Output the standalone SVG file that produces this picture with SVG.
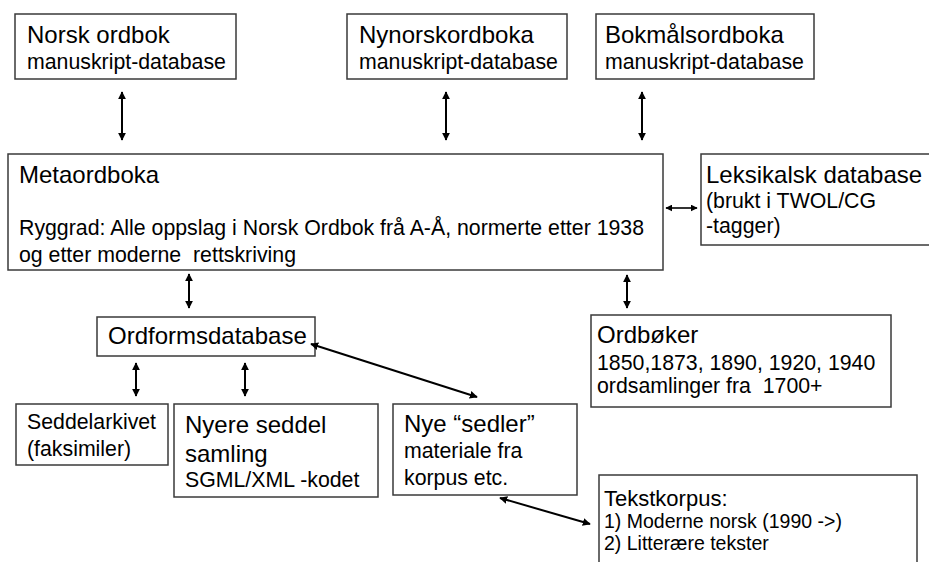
<svg xmlns="http://www.w3.org/2000/svg" width="929" height="562" viewBox="0 0 929 562">
<style>
.box{fill:#fff;stroke:#3a3a3a;stroke-width:1.5}
text{font-family:"Liberation Sans",Arial,sans-serif;fill:#000;white-space:pre}
.t24{font-size:24px}
.t21{font-size:21.3px}
.t19{font-size:19.5px}
.con line{stroke:#000;stroke-width:2}
</style>
<defs>
<marker id="ah" viewBox="0 0 10 10" refX="9" refY="5" markerWidth="8" markerHeight="9" markerUnits="userSpaceOnUse" orient="auto-start-reverse"><path d="M0,0 L10,5 L0,10 z" fill="#000"/></marker>
<marker id="ahs" viewBox="0 0 10 10" refX="9" refY="5" markerWidth="7" markerHeight="7" markerUnits="userSpaceOnUse" orient="auto-start-reverse"><path d="M0,0 L10,5 L0,10 z" fill="#000"/></marker>
</defs>
<rect width="929" height="562" fill="#fff"/>

<g id="norsk-ordbok">
<rect class="box" x="15" y="14" width="221" height="65"/>
<text class="t24" x="27" y="43">Norsk ordbok</text>
<text class="t21" x="27" y="69">manuskript-database</text>
</g>
<g id="nynorskordboka">
<rect class="box" x="347" y="14" width="220" height="65"/>
<text class="t24" x="359" y="43">Nynorskordboka</text>
<text class="t21" x="359" y="69">manuskript-database</text>
</g>
<g id="bokmalsordboka">
<rect class="box" x="596" y="14" width="218" height="65"/>
<text class="t24" x="605" y="43">Bokmålsordboka</text>
<text class="t21" x="605" y="69">manuskript-database</text>
</g>
<g id="metaordboka">
<rect class="box" x="8" y="154" width="655" height="116"/>
<text class="t24" x="19" y="183">Metaordboka</text>
<text class="t21" x="19" y="235">Ryggrad: Alle oppslag i Norsk Ordbok frå A-Å, normerte etter 1938</text>
<text class="t21" x="19" y="262">og etter moderne  rettskriving</text>
</g>
<g id="leksikalsk">
<rect class="box" x="701" y="154" width="232" height="91"/>
<text class="t24" x="706" y="183">Leksikalsk database</text>
<text class="t21" x="706" y="208">(brukt i TWOL/CG</text>
<text class="t21" x="706" y="233">-tagger)</text>
</g>
<g id="ordformsdatabase">
<rect class="box" x="97" y="317" width="218" height="39"/>
<text class="t24" x="108" y="344">Ordformsdatabase</text>
</g>
<g id="ordboker">
<rect class="box" x="591" y="315" width="300" height="92"/>
<text class="t24" x="597" y="343">Ordbøker</text>
<text class="t21" x="597" y="370">1850,1873, 1890, 1920, 1940</text>
<text class="t21" x="597" y="393">ordsamlinger fra  1700+</text>
</g>
<g id="seddelarkivet">
<rect class="box" x="16" y="404" width="152" height="61"/>
<text class="t21" x="27" y="429">Seddelarkivet</text>
<text class="t21" x="27" y="456">(faksimiler)</text>
</g>
<g id="nyere-seddel">
<rect class="box" x="174" y="404" width="204" height="93"/>
<text class="t24" x="185" y="433">Nyere seddel</text>
<text class="t24" x="185" y="462">samling</text>
<text class="t21" x="185" y="487">SGML/XML -kodet</text>
</g>
<g id="nye-sedler">
<rect class="box" x="393" y="404" width="184" height="91"/>
<text class="t24" x="404" y="432">Nye “sedler”</text>
<text class="t21" x="404" y="458">materiale fra</text>
<text class="t21" x="404" y="485">korpus etc.</text>
</g>
<g id="tekstkorpus">
<rect class="box" x="599" y="475" width="318" height="100"/>
<text style="font-size:22px" x="604" y="506">Tekstkorpus:</text>
<text class="t19" x="604" y="528">1) Moderne norsk (1990 -&gt;)</text>
<text class="t19" x="604" y="550">2) Litterære tekster</text>
</g>

<g id="connectors" class="con">
<line x1="122" y1="92" x2="122" y2="140" marker-start="url(#ah)" marker-end="url(#ah)"/>
<line x1="446" y1="92" x2="446" y2="140" marker-start="url(#ah)" marker-end="url(#ah)"/>
<line x1="642" y1="92" x2="642" y2="140" marker-start="url(#ah)" marker-end="url(#ah)"/>
<line x1="666" y1="208" x2="697" y2="208" style="stroke-width:1.6" marker-start="url(#ahs)" marker-end="url(#ahs)"/>
<line x1="189" y1="274" x2="189" y2="308" marker-start="url(#ah)" marker-end="url(#ah)"/>
<line x1="627" y1="275" x2="627" y2="308" marker-start="url(#ah)" marker-end="url(#ah)"/>
<line x1="136" y1="363" x2="136" y2="396" marker-start="url(#ah)" marker-end="url(#ah)"/>
<line x1="245" y1="363" x2="245" y2="396" marker-start="url(#ah)" marker-end="url(#ah)"/>
<line x1="311" y1="344" x2="477" y2="397" marker-start="url(#ah)" marker-end="url(#ah)"/>
<line x1="500" y1="498" x2="590" y2="524" marker-start="url(#ah)" marker-end="url(#ah)"/>
</g>
</svg>
